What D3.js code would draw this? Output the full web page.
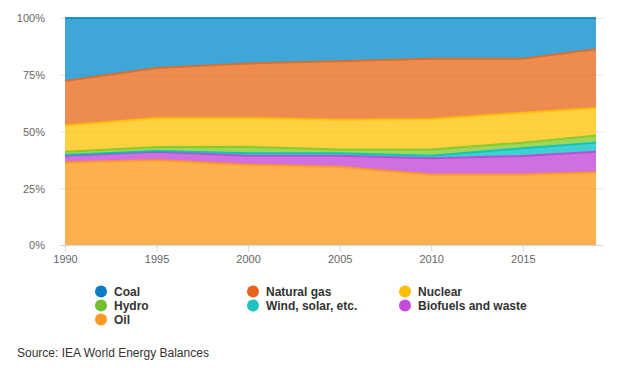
<!DOCTYPE html>
<html>
<head>
<meta charset="utf-8">
<script src="https://cdn.jsdelivr.net/npm/d3@7"></script>
<style>
html,body{margin:0;padding:0;background:#fff;}
svg{display:block;font-family:"Liberation Sans",Arial,Helvetica,sans-serif;}
</style>
</head>
<body>
<svg id="chart" width="638" height="368"></svg>
<script>
const years = [1990, 1995, 2000, 2005, 2010, 2015, 2019];
const oil      = [36.4, 37.4, 35.4, 34.5, 31.1, 31.1, 32.0];
const biofuels = [2.9, 3.7, 3.9, 4.8, 7.1, 8.1, 9.1];
const wind     = [0.3, 0.3, 1.1, 1.1, 1.1, 3.4, 4.0];
const hydro    = [1.5, 1.8, 2.9, 1.7, 2.8, 2.5, 3.1];
const nuclear  = [11.5, 12.8, 12.7, 13.1, 13.4, 13.2, 12.2];
const gas      = [19.6, 22.0, 24.0, 25.8, 26.5, 23.8, 25.8];
const coal     = [27.8, 22.0, 20.0, 19.0, 18.0, 17.9, 13.8];
const xTicks = [1990, 1995, 2000, 2005, 2010, 2015];
const yTicks = [0, 0.25, 0.5, 0.75, 1];

// stacking order bottom -> top
const series = [
  {key:"Oil", values:oil, color:"#ff9613"},
  {key:"Biofuels and waste", values:biofuels, color:"#c040d6"},
  {key:"Wind, solar, etc.", values:wind, color:"#00c0c0"},
  {key:"Hydro", values:hydro, color:"#7cc823"},
  {key:"Nuclear", values:nuclear, color:"#ffc000"},
  {key:"Natural gas", values:gas, color:"#e86616"},
  {key:"Coal", values:coal, color:"#0088cb"}
];
const legendOrder = ["Coal","Natural gas","Nuclear","Hydro","Wind, solar, etc.","Biofuels and waste","Oil"];
const legendColor = {"Coal":"#0a7cc4","Natural gas":"#e8621c","Nuclear":"#ffbd00","Hydro":"#72c02c","Wind, solar, etc.":"#1ec2c2","Biofuels and waste":"#c84ad8","Oil":"#ff9820"};

const table = years.map((y,i)=>{const r={year:y}; series.forEach(s=>r[s.key]=s.values[i]); return r;});
const stacked = d3.stack().keys(series.map(s=>s.key)).offset(d3.stackOffsetExpand)(table);

const svg = d3.select("#chart");
const x = d3.scaleLinear().domain([1990, 2019]).range([65, 596]);
const y = d3.scaleLinear().domain([0, 1]).range([245, 18]);

// gridlines
svg.append("g").selectAll("line").data(yTicks.filter(t=>t>0)).join("line")
  .attr("x1",60).attr("x2",603).attr("y1",d=>y(d)+0.5).attr("y2",d=>y(d)+0.5)
  .attr("stroke","#e6e6e6").attr("stroke-width",1);

const area = d3.area().x(d=>x(d.data.year)).y0(d=>y(d[0])).y1(d=>y(d[1]));
const line = d3.line().x(d=>x(d.data.year)).y(d=>y(d[1]));

svg.append("g").selectAll("path").data(stacked).join("path")
  .attr("d",area).attr("fill",(d,i)=>series[i].color).attr("fill-opacity",0.75);
svg.append("g").selectAll("path").data(stacked).join("path")
  .attr("d",line).attr("fill","none").attr("stroke",(d,i)=>series[i].color).attr("stroke-width",2).attr("stroke-opacity",0.85);

// y axis labels
const yAxis = d3.axisLeft(y).tickValues(yTicks).tickFormat(d=>Math.round(d*100)+"%").tickSize(0).tickPadding(0);
const gy = svg.append("g").attr("transform","translate(45,0)").call(yAxis);
gy.select(".domain").remove();
gy.selectAll("text").attr("fill","#666").attr("font-size","11px").attr("font-family","Liberation Sans, Arial, sans-serif").attr("dy","0.35em");

// x axis
const xAxis = d3.axisBottom(x).tickValues(xTicks).tickFormat(d3.format("d")).tickSize(6).tickPadding(4);
const gx = svg.append("g").attr("transform","translate(0,245.5)").call(xAxis);
gx.select(".domain").attr("d","M60,0H603").attr("stroke","#ccd6eb");
gx.selectAll(".tick line").attr("stroke","#ccd6eb");
gx.selectAll("text").attr("fill","#666").attr("font-size","11px").attr("font-family","Liberation Sans, Arial, sans-serif");
// left tick at 0%
svg.append("line").attr("x1",60).attr("x2",65).attr("y1",245.5).attr("y2",245.5).attr("stroke","#ccd6eb");

// legend
const colX = [[101,114],[253,266],[405,418]];
const rowY = [291.5, 305.5, 319.5];
const lg = svg.append("g");
legendOrder.forEach((k,i)=>{
  const c = i%3, r = Math.floor(i/3);
  lg.append("circle").attr("cx",colX[c][0]).attr("cy",rowY[r]).attr("r",6).attr("fill",legendColor[k]);
  lg.append("text").attr("x",colX[c][1]).attr("y",rowY[r]).attr("dy","0.36em")
    .attr("font-size","12px").attr("font-weight","bold").attr("fill","#333").text(k);
});

svg.append("text").attr("x",17).attr("y",357).attr("font-size","12px").attr("fill","#333").text("Source: IEA World Energy Balances");
</script>
</body>
</html>
